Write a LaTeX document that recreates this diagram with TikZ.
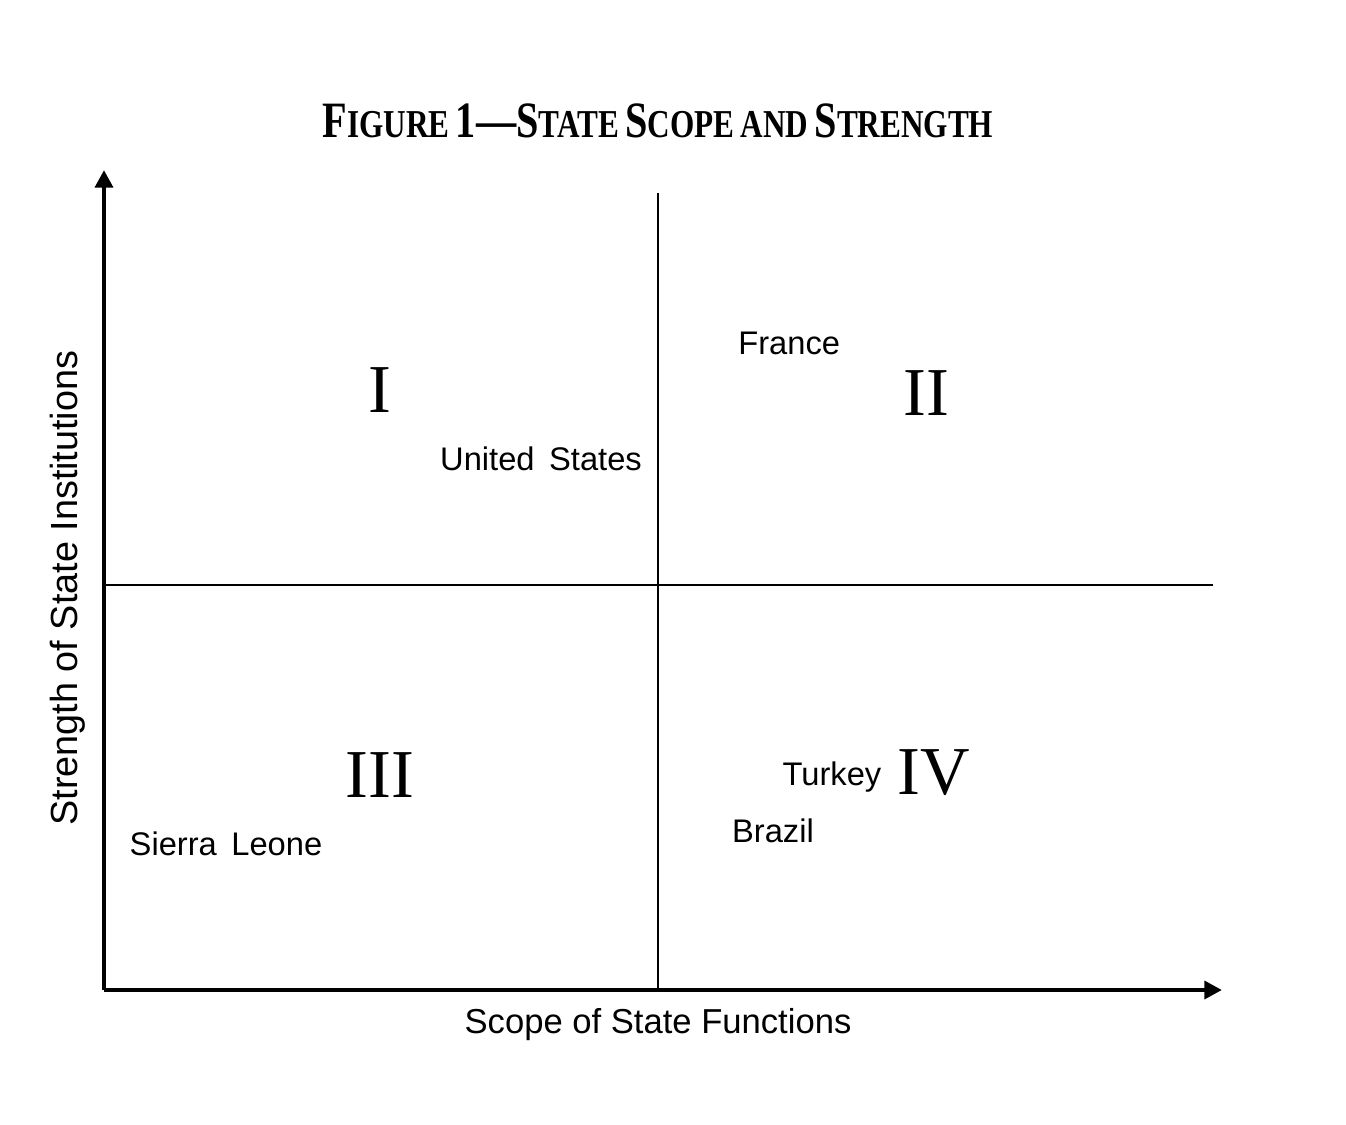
\documentclass[tikz,border=0pt]{standalone}
\usepackage{fontspec}
\setmainfont{Liberation Serif}
\setsansfont{Liberation Sans}
\usetikzlibrary{arrows.meta}
\newcommand\tbig[1]{{\fontsize{29}{30}\selectfont #1}}
\newcommand\tsml[1]{{\fontsize{22.5}{24}\selectfont #1}}
\newcommand\tsp{\hspace{0.45em}}
\begin{document}
\begin{tikzpicture}[x=0.02cm,y=-0.02cm,
  axis/.style={line width=2.6pt,-{Triangle[width=10pt,length=10pt]}},
  divider/.style={line width=0.85pt},
  country/.style={font=\sffamily\fontsize{18.6}{20}\selectfont,inner sep=0pt},
  axislabel/.style={font=\sffamily\fontsize{19.7}{21}\selectfont,inner sep=0pt},
  quad/.style={font=\rmfamily\fontsize{39}{40}\selectfont,inner sep=0pt}]
\useasboundingbox (0,0) rectangle (1346,1125);
\coordinate (O) at (104,990);
\coordinate (ytip) at (104,170);
\coordinate (xtip) at (1222,990);
\coordinate (vtop) at (658,193);
\coordinate (vbot) at (658,990);
\coordinate (hl) at (104,585);
\coordinate (hr) at (1213,585);
\draw[divider] (vtop) -- (vbot);
\draw[divider] (hl) -- (hr);
\draw[axis] (O) -- (ytip);
\draw[axis] (O) -- (xtip);
\node[inner sep=0pt,font=\bfseries] (title) at (658,121)
  {\scalebox{0.79}[1]{\tbig{F}\tsml{IGURE}\tsp\tbig{1—S}\tsml{TATE}\tsp\tbig{S}\tsml{COPE}\tsp\tsml{AND}\tsp\tbig{S}\tsml{TRENGTH}}};
\node[axislabel] (xlab) at (658,1025) {Scope of State Functions};
\node[axislabel,font=\sffamily\fontsize{21.5}{23}\selectfont,rotate=90] (ylab) at (68,588) {Strength of State Institutions};
\node[quad] (q1) at (380,390) {I};
\node[quad] (q2) at (926,393) {II};
\node[quad] (q3) at (380,775) {III};
\node[quad] (q4) at (934,773) {IV};
\node[country,anchor=west] (fr) at (738,343) {France};
\node[country] (us) at (541,459) {United\, States};
\node[country] (sl) at (226,844) {Sierra\, Leone};
\node[country] (tr) at (832,777) {Turkey};
\node[country] (br) at (773,831) {Brazil};
\end{tikzpicture}
\end{document}
